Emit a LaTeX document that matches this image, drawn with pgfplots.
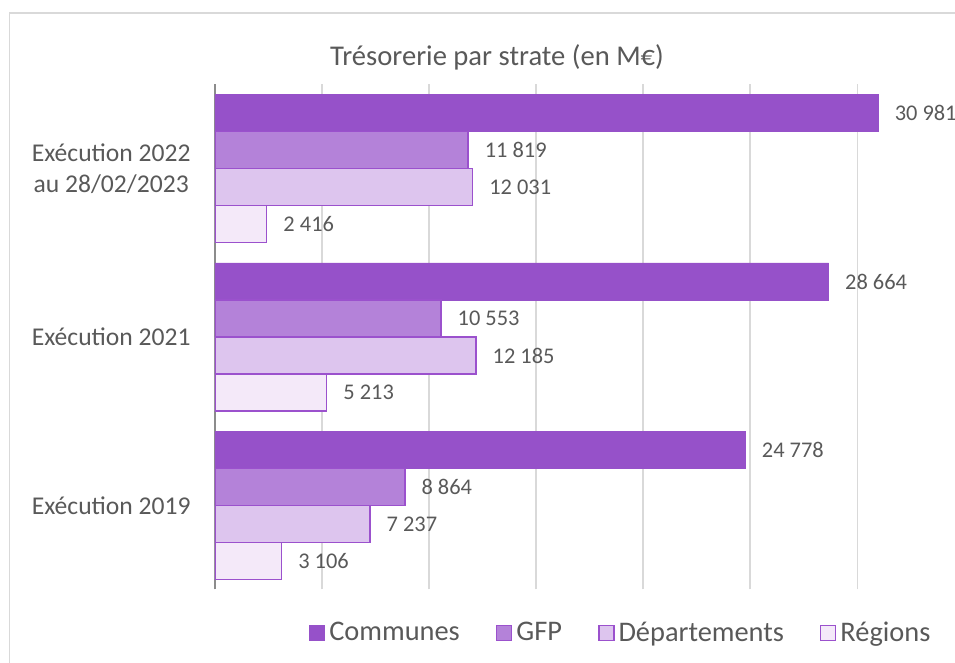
\documentclass[border=0pt]{standalone}
\usepackage{pgfplots}
\pgfplotsset{compat=1.18}
\usepackage{fontspec}
\setmainfont{Carlito}
\definecolor{txt}{HTML}{595959}
\definecolor{cA}{HTML}{9651C9}
\definecolor{cB}{HTML}{B482D9}
\definecolor{cC}{HTML}{DDC5EE}
\definecolor{cD}{HTML}{F4E9F9}
\definecolor{edge}{HTML}{9B51CD}
\definecolor{gridc}{HTML}{D9D9D9}
\definecolor{framec}{HTML}{D9D9D9}
\begin{document}
\begin{tikzpicture}
\path[use as bounding box] (0,0) rectangle (477.5pt,331.5pt);
\draw[framec, line width=0.8pt] (4.75pt,-5pt) -- (4.75pt,325pt) -- (490pt,325pt);
\node[font=\fontsize{14.3}{16}\selectfont, text=txt] at (248.5pt,303pt) {Trésorerie par strate (en M€)};
\begin{axis}[
  at={(107.5pt,36.75pt)}, anchor=south west,
  scale only axis, width=364pt, height=252.5pt,
  xbar, bar width=0.22,
  xmin=0, xmax=34000, ymin=-0.5, ymax=2.5,
  xtick={0,5000,...,30000}, xticklabels={}, scaled x ticks=false,
  xmajorgrids, grid style={gridc, line width=0.8pt},
  ytick={0,1,2},
  yticklabels={Exécution 2019, Exécution 2021, {Exécution 2022\\au 28/02/2023}},
  yticklabel style={align=center, font=\fontsize{12.8}{15.2}\selectfont, text=txt, inner sep=0pt, xshift=-12pt},
  major tick length=0pt,
  axis lines*=left,
  x axis line style={draw=none},
  y axis line style={draw=gray!90, line width=0.8pt},
  /pgf/number format/1000 sep={\ },
  /pgf/number format/assume math mode=true,
  nodes near coords,
  nodes near coords style={font=\fontsize{11.2}{13}\selectfont, text=txt, inner sep=0pt, xshift=8pt, anchor=west},
  legend columns=4,
  legend cell align=left,
  legend style={at={(0.559,-0.086)}, anchor=center, draw=none, fill=none,
    font=\fontsize{14.2}{16}\selectfont, text=txt,
    /tikz/every even column/.append style={column sep=16pt}},
  legend image code/.code={\draw[#1, bar shift=0pt] (0pt,-3.75pt) rectangle (7.5pt,3.75pt);},
]
\addplot[fill=cA, draw=cA, bar shift=0.33] coordinates {(24778,0) (28664,1) (30981,2)};
\addplot[fill=cB, draw=edge, line width=0.75pt, bar shift=0.11] coordinates {(8864,0) (10553,1) (11819,2)};
\addplot[fill=cC, draw=edge, line width=0.75pt, bar shift=-0.11] coordinates {(7237,0) (12185,1) (12031,2)};
\addplot[fill=cD, draw=edge, line width=0.75pt, bar shift=-0.33] coordinates {(3106,0) (5213,1) (2416,2)};
\legend{Communes, GFP, Départements, Régions}
\end{axis}
\end{tikzpicture}
\end{document}
